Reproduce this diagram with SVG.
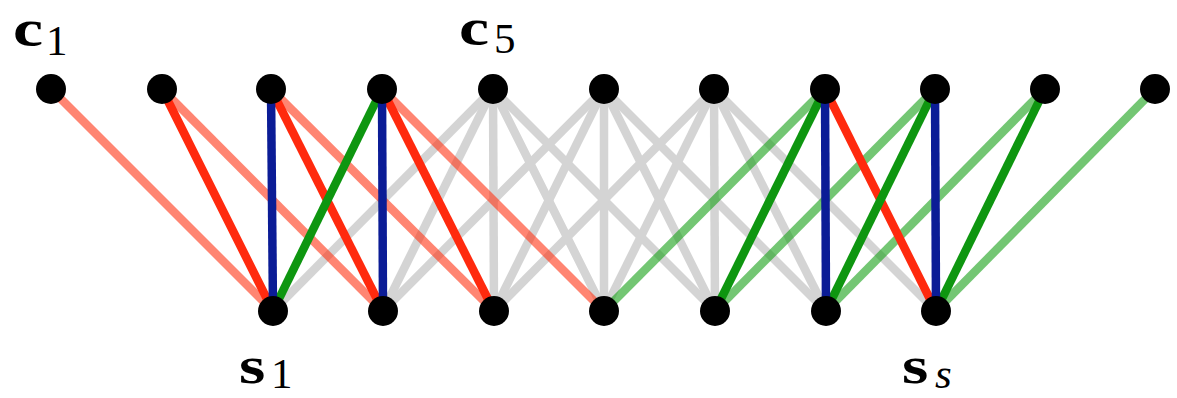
<svg xmlns="http://www.w3.org/2000/svg" width="1177" height="398" viewBox="0 0 1177 398">
<style>
.e{fill:none;stroke-width:8.5;stroke-linecap:butt}
.gray{stroke:#d4d4d4}
.lr{stroke:#ff3414;stroke-opacity:0.6}
.r{stroke:#ff2a0e}
.b{stroke:#0b1c96}
.g{stroke:#0e9610}
.lg{stroke:#15a015;stroke-opacity:0.6}
.n{fill:#000}
.t{font-family:"Liberation Serif","Tinos","Times New Roman","DejaVu Serif",serif;fill:#000}
.m{font-weight:bold;font-size:52px}
.s{font-size:43px}
</style>
<rect width="1177" height="398" fill="#fff"/>
<g id="connectors">
<line class="e gray" x1="493" y1="89" x2="273" y2="311"/>
<line class="e gray" x1="493" y1="89" x2="383" y2="311"/>
<line class="e gray" x1="604" y1="89" x2="383" y2="311"/>
<line class="e gray" x1="493" y1="89" x2="494" y2="311"/>
<line class="e gray" x1="604" y1="89" x2="494" y2="311"/>
<line class="e gray" x1="714" y1="89" x2="494" y2="311"/>
<line class="e gray" x1="493" y1="89" x2="604" y2="311"/>
<line class="e gray" x1="604" y1="89" x2="604" y2="311"/>
<line class="e gray" x1="714" y1="89" x2="604" y2="311"/>
<line class="e gray" x1="493" y1="89" x2="715" y2="311"/>
<line class="e gray" x1="604" y1="89" x2="715" y2="311"/>
<line class="e gray" x1="714" y1="89" x2="715" y2="311"/>
<line class="e gray" x1="604" y1="89" x2="826" y2="311"/>
<line class="e gray" x1="714" y1="89" x2="826" y2="311"/>
<line class="e gray" x1="714" y1="89" x2="936" y2="311"/>
<line class="e lr" x1="51" y1="89" x2="273" y2="311"/>
<line class="e lr" x1="162" y1="89" x2="383" y2="311"/>
<line class="e lr" x1="271" y1="89" x2="494" y2="311"/>
<line class="e lr" x1="382" y1="89" x2="604" y2="311"/>
<line class="e lg" x1="825" y1="89" x2="604" y2="311"/>
<line class="e lg" x1="935" y1="89" x2="715" y2="311"/>
<line class="e lg" x1="1045" y1="89" x2="826" y2="311"/>
<line class="e lg" x1="1155" y1="89" x2="936" y2="311"/>
<line class="e r" x1="162" y1="89" x2="273" y2="311"/>
<line class="e r" x1="271" y1="89" x2="383" y2="311"/>
<line class="e r" x1="382" y1="89" x2="494" y2="311"/>
<line class="e r" x1="825" y1="89" x2="936" y2="311"/>
<line class="e g" x1="382" y1="89" x2="273" y2="311"/>
<line class="e g" x1="825" y1="89" x2="715" y2="311"/>
<line class="e g" x1="935" y1="89" x2="826" y2="311"/>
<line class="e g" x1="1045" y1="89" x2="936" y2="311"/>
<line class="e b" x1="271" y1="89" x2="273" y2="311"/>
<line class="e b" x1="382" y1="89" x2="383" y2="311"/>
<line class="e b" x1="825" y1="89" x2="826" y2="311"/>
<line class="e b" x1="935" y1="89" x2="936" y2="311"/>
</g>
<g id="c1"><circle class="n" cx="51" cy="89" r="15"/></g>
<g id="c2"><circle class="n" cx="162" cy="89" r="15"/></g>
<g id="c3"><circle class="n" cx="271" cy="89" r="15"/></g>
<g id="c4"><circle class="n" cx="382" cy="89" r="15"/></g>
<g id="c5"><circle class="n" cx="493" cy="89" r="15"/></g>
<g id="c6"><circle class="n" cx="604" cy="89" r="15"/></g>
<g id="c7"><circle class="n" cx="714" cy="89" r="15"/></g>
<g id="c8"><circle class="n" cx="825" cy="89" r="15"/></g>
<g id="c9"><circle class="n" cx="935" cy="89" r="15"/></g>
<g id="c10"><circle class="n" cx="1045" cy="89" r="15"/></g>
<g id="c11"><circle class="n" cx="1155" cy="89" r="15"/></g>
<g id="s1"><circle class="n" cx="273" cy="311" r="15"/></g>
<g id="s2"><circle class="n" cx="383" cy="311" r="15"/></g>
<g id="s3"><circle class="n" cx="494" cy="311" r="15"/></g>
<g id="s4"><circle class="n" cx="604" cy="311" r="15"/></g>
<g id="s5"><circle class="n" cx="715" cy="311" r="15"/></g>
<g id="s6"><circle class="n" cx="826" cy="311" r="15"/></g>
<g id="s7"><circle class="n" cx="936" cy="311" r="15"/></g>
<g id="labels">
<text class="t m" transform="translate(13 46) scale(1.3 1)">c</text>
<text class="t s" x="46" y="55">1</text>
<text class="t m" transform="translate(459 45) scale(1.3 1)">c</text>
<text class="t s" x="494" y="53">5</text>
<text class="t m" transform="translate(239 383) scale(1.3 1)">s</text>
<text class="t s" x="271" y="388">1</text>
<text class="t m" transform="translate(902 383) scale(1.3 1)">s</text>
<text class="t s" x="935" y="388" font-style="italic">s</text>
</g>
</svg>
